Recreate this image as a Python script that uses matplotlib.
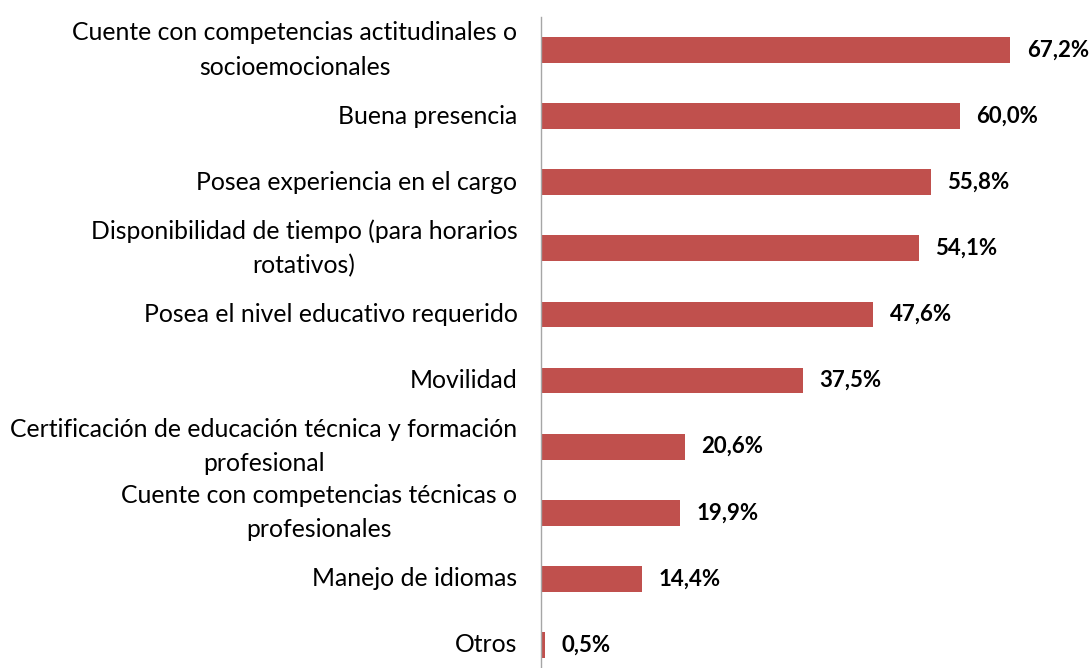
import matplotlib.pyplot as plt

categories = [
    "Cuente con competencias actitudinales o\nsocioemocionales",
    "Buena presencia",
    "Posea experiencia en el cargo",
    "Disponibilidad de tiempo (para horarios\nrotativos)",
    "Posea el nivel educativo requerido",
    "Movilidad",
    "Certificación de educación técnica y formación\nprofesional",
    "Cuente con competencias técnicas o\nprofesionales",
    "Manejo de idiomas",
    "Otros",
]
values = [67.2, 60.0, 55.8, 54.1, 47.6, 37.5, 20.6, 19.9, 14.4, 0.5]
value_labels = ["67,2%", "60,0%", "55,8%", "54,1%", "47,6%",
                "37,5%", "20,6%", "19,9%", "14,4%", "0,5%"]

plt.rcParams['font.family'] = ['Lato', 'DejaVu Sans']

fig = plt.figure(figsize=(10.89, 6.68), dpi=100)
ax = fig.add_axes([0.4968, -0.0150, 0.5032, 0.9895])

pos = list(range(len(values)))
ax.barh(pos, values, height=0.39, color="#C0504D")
ax.set_ylim(len(values) - 0.5, -0.5)
ax.set_xlim(0, 78.5)

ax.set_yticks(pos)
ax.set_yticklabels(categories, fontsize=17.8, multialignment="center",
                   linespacing=1.6, color="black", va="center")
ax.tick_params(axis="y", length=0, pad=17)
ax.set_xticks([])

for s in ["top", "right", "bottom"]:
    ax.spines[s].set_visible(False)
ax.spines["left"].set_color("#A6A6A6")
ax.spines["left"].set_linewidth(1.0)

for i, (v, lab) in enumerate(zip(values, value_labels)):
    ax.annotate(lab, (v, i), xytext=(12, 0), textcoords="offset points",
                va="center", ha="left", fontsize=16, fontweight="bold")

fig.savefig("out.png", dpi=100)
